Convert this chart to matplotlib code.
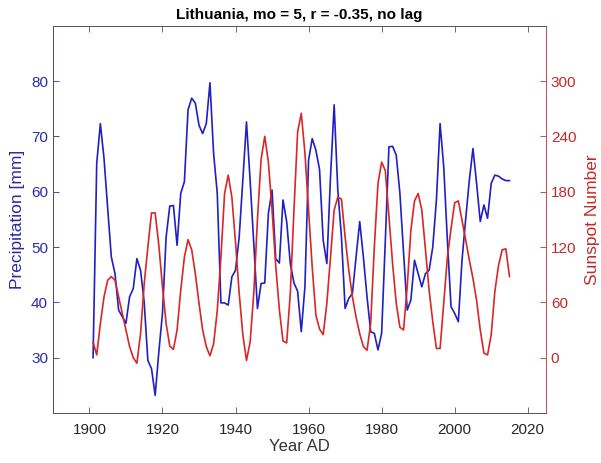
import matplotlib
matplotlib.use("Agg")
import matplotlib.pyplot as plt
import numpy as np

plt.rcParams['font.family'] = ['Liberation Sans', 'DejaVu Sans']

years = list(range(1901, 2016))

precip = [30.0, 65.1, 72.3, 66.0, 57.0, 48.2, 45.2, 38.6, 37.4, 36.2,
          41.0, 42.5, 47.9, 45.8, 40.0, 29.5, 28.0, 23.2, 31.0, 38.0,
          51.8, 57.4, 57.5, 50.3, 59.7, 61.8, 74.8, 76.9, 76.0, 72.0,
          70.5, 72.3, 79.7, 66.9, 59.7, 39.9, 39.9, 39.5, 44.6, 45.8,
          51.8, 62.1, 72.6, 62.0, 50.6, 38.9, 43.4, 43.5, 56.1, 60.3,
          47.9, 47.1, 58.5, 54.6, 47.0, 43.5, 42.0, 34.7, 42.8, 65.7,
          69.6, 67.5, 64.0, 51.2, 47.0, 62.6, 75.7, 60.3, 51.8, 38.9,
          40.7, 41.6, 48.2, 54.6, 48.2, 41.0, 34.7, 34.4, 31.4, 34.4,
          51.0, 68.1, 68.2, 66.6, 59.7, 49.0, 38.6, 40.4, 47.6, 45.2,
          42.8, 45.2, 45.8, 50.0, 58.5, 72.3, 64.5, 51.2, 39.2, 38.0,
          36.5, 47.6, 55.0, 62.0, 67.8, 61.5, 54.6, 57.6, 55.2, 61.5,
          63.0, 62.8, 62.3, 62.0, 62.0]

sunspots = [17, 3, 37, 66, 84, 88, 84, 66, 48, 30,
            12, 0, -6, 26, 80, 120, 157, 157, 122, 77,
            37, 12.5, 9, 30, 73, 109, 128, 117, 91, 59,
            30, 12, 2, 15, 51, 109, 178, 198, 174, 125,
            70, 25, -3, 17, 70, 150, 215, 240, 212, 160,
            100, 52, 18, 16, 70, 160, 245, 265, 222, 160,
            98, 46, 31, 25, 59, 109, 160, 174, 172, 131,
            95, 66, 44, 26, 12, 8, 37, 120, 189, 212,
            203, 153, 102, 59, 33, 30, 77, 138, 170, 178,
            160, 117, 73, 39, 10, 10, 59, 109, 140, 168,
            170, 149, 128, 106, 86, 62, 30, 5, 3, 25,
            72, 100, 117, 118, 88]

left_ticks = [30, 40, 50, 60, 70, 80]
right_ticks = [0, 60, 120, 180, 240, 300]
x_ticks = [1900, 1920, 1940, 1960, 1980, 2000, 2020]

blue = '#1f1fc4'
red = '#d92626'
blue_txt = '#2a2aa8'
red_txt = '#c42a2a'

fig = plt.figure(figsize=(6.01, 4.63), dpi=100)
ax = fig.add_axes([0.088, 0.108, 0.8205, 0.8365])
ax2 = ax.twinx()

ax.plot(years, precip, color=blue, lw=1.2)
ax2.plot(years, sunspots, color=red, lw=1.2)

ax.set_xlim(1890, 2025)
ax.set_ylim(20, 90)
ax2.set_ylim(-60, 360)

ax.set_xticks(x_ticks)
ax.set_yticks(left_ticks)
ax2.set_yticks(right_ticks)

ax.tick_params(axis='x', direction='in', top=True, labelsize=11, colors='#262626',
               length=4, pad=7, width=0.6)
ax.tick_params(axis='y', direction='in', labelsize=11, colors=blue_txt, length=4, width=0.6)
ax2.tick_params(axis='y', direction='in', labelsize=11, colors=red_txt, length=4, width=0.6)
ax.tick_params(axis='x', colors='#555555', labelcolor='#262626')

for a in (ax, ax2):
    for s in a.spines.values():
        s.set_linewidth(0.7)
    a.spines['top'].set_color('#555555')
    a.spines['bottom'].set_color('#555555')
    a.spines['left'].set_color('#4a4aa0')
    a.spines['right'].set_color('#c05050')

ax.set_ylabel('Precipitation [mm]', fontsize=12.5, color=blue_txt, labelpad=4)
ax2.set_ylabel('Sunspot Number', fontsize=12.5, color=red_txt, labelpad=6)
ax.set_xlabel('Year AD', fontsize=12, color='#333333', labelpad=2)
ax.set_title('Lithuania, mo = 5, r = -0.35, no lag', fontsize=11, fontweight='bold', pad=5)

fig.savefig('out.png', dpi=100)
